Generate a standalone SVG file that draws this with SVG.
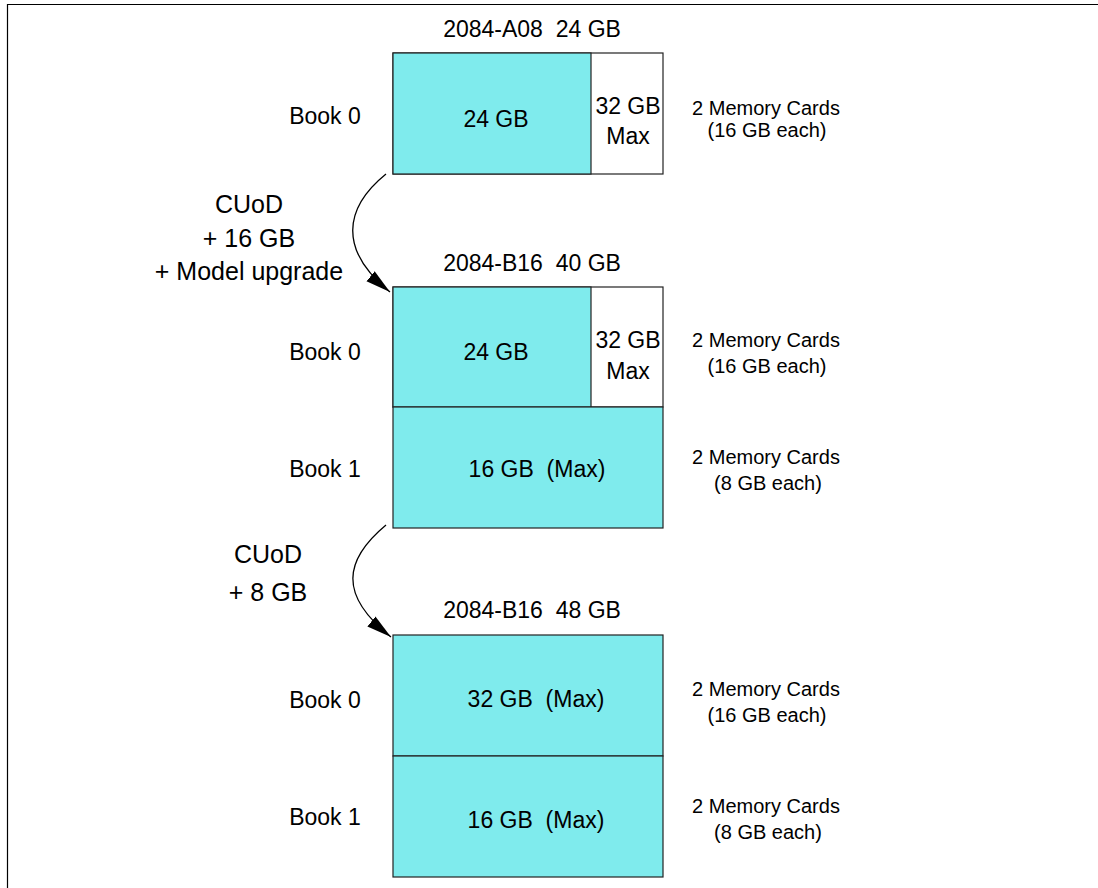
<svg xmlns="http://www.w3.org/2000/svg" width="1098" height="888" viewBox="0 0 1098 888">
<style>
text{font-family:"Liberation Sans",Arial,sans-serif;fill:#000;white-space:pre}
.t{font-size:23px;text-anchor:middle}
.l{font-size:25px;text-anchor:middle}
.m{font-size:20px;text-anchor:middle}
.c{fill:#7FEBED;stroke:#222;stroke-width:1.2}
.w{fill:#fff;stroke:#222;stroke-width:1.2}
.conn{stroke:#000;stroke-width:1.3;fill:none;marker-end:url(#ah)}
</style>
<defs>
<marker id="ah" markerUnits="userSpaceOnUse" markerWidth="26" markerHeight="16" viewBox="0 0 26 16" refX="25" refY="8" orient="auto">
<path d="M0,1.5 L25,8 L0,14.5 Z" fill="#000"/>
</marker>
</defs>
<rect width="1098" height="888" fill="#fff"/>
<path d="M7.5,888 V4.5 H1098" stroke="#000" stroke-width="1.2" fill="none"/>

<g id="config1">
<text class="t" x="532" y="37" xml:space="preserve">2084-A08  24 GB</text>
</g>
<g id="c1-book0">
<text class="t" x="325" y="124">Book 0</text>
<rect class="w" x="393" y="53" width="270" height="121"/>
<rect class="c" x="393" y="53" width="198" height="121"/>
<text class="t" x="496" y="127">24 GB</text>
<text class="t" x="628" y="114">32 GB</text>
<text class="t" x="628" y="144">Max</text>
<text class="m" x="766" y="115">2 Memory Cards</text>
<text class="m" x="767" y="137">(16 GB each)</text>
</g>

<g id="config2">
<text class="t" x="532" y="271" xml:space="preserve">2084-B16  40 GB</text>
</g>
<g id="c2-book0">
<text class="t" x="325" y="360">Book 0</text>
<rect class="w" x="393" y="287" width="270" height="120"/>
<rect class="c" x="393" y="287" width="198" height="120"/>
<text class="t" x="496" y="360">24 GB</text>
<text class="t" x="628" y="348">32 GB</text>
<text class="t" x="628" y="379">Max</text>
<text class="m" x="766" y="347">2 Memory Cards</text>
<text class="m" x="767" y="373">(16 GB each)</text>
</g>
<g id="c2-book1">
<text class="t" x="325" y="477">Book 1</text>
<rect class="c" x="393" y="407" width="270" height="121"/>
<text class="t" x="537" y="477" xml:space="preserve">16 GB  (Max)</text>
<text class="m" x="766" y="464">2 Memory Cards</text>
<text class="m" x="768" y="490">(8 GB each)</text>
</g>

<g id="config3">
<text class="t" x="532" y="618" xml:space="preserve">2084-B16  48 GB</text>
</g>
<g id="c3-book0">
<text class="t" x="325" y="708">Book 0</text>
<rect class="c" x="393" y="635" width="270" height="121"/>
<text class="t" x="536" y="707" xml:space="preserve">32 GB  (Max)</text>
<text class="m" x="766" y="696">2 Memory Cards</text>
<text class="m" x="767" y="722">(16 GB each)</text>
</g>
<g id="c3-book1">
<text class="t" x="325" y="825">Book 1</text>
<rect class="c" x="393" y="756" width="270" height="121"/>
<text class="t" x="536" y="828" xml:space="preserve">16 GB  (Max)</text>
<text class="m" x="766" y="813">2 Memory Cards</text>
<text class="m" x="768" y="839">(8 GB each)</text>
</g>

<g id="label1">
<text class="l" x="249" y="213">CUoD</text>
<text class="l" x="249" y="247">+ 16 GB</text>
<text class="l" x="249" y="280">+ Model upgrade</text>
</g>
<g id="label2">
<text class="l" x="268" y="563">CUoD</text>
<text class="l" x="268" y="601">+ 8 GB</text>
</g>

<g id="connectors">
<path class="conn" d="M386,174 C344,208 338,250 390,292"/>
<path class="conn" d="M386,525 C344,560 338,595 391,637"/>
</g>
</svg>
